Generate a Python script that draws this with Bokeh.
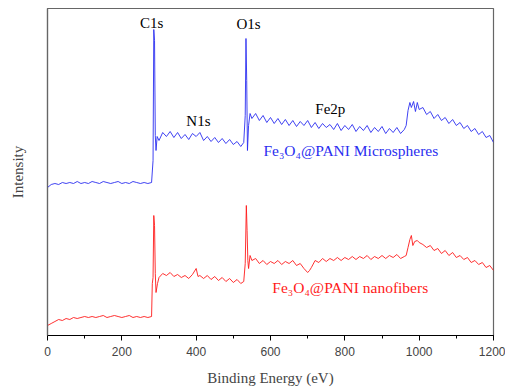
from bokeh.plotting import figure
from bokeh.models import Range1d, SingleIntervalTicker, FixedTicker
from bokeh.core.properties import value
from bokeh.embed import file_html
from bokeh.resources import INLINE

# Binding energy (eV) and intensity (a.u.) for Fe3O4@PANI Microspheres
micro_x = [0, 10, 20, 30, 40, 50, 60, 70, 80, 90, 100, 110, 120, 130, 140, 150, 160, 170, 180, 190,
           200, 210, 220, 230, 240, 250, 260, 270, 280, 284, 286, 288, 290, 292, 295,
           300, 310, 320, 330, 340, 350, 360, 370, 380, 390, 400, 410, 420, 430, 440, 450, 460, 470,
           480, 490, 500, 510, 520, 528, 532, 534, 536, 538, 541, 545,
           550, 560, 570, 580, 590, 600, 610, 620, 630, 640, 650, 660, 670, 680, 690, 700, 710, 720,
           730, 740, 750, 760, 770, 780, 790, 800, 810, 820, 830, 840, 850, 860, 870, 880, 890, 900,
           910, 920, 930, 940, 950, 960, 965, 970, 975, 979, 985, 990, 995,
           1000, 1010, 1020, 1030, 1040, 1050, 1060, 1070, 1080, 1090, 1100, 1110, 1120, 1130, 1140,
           1150, 1160, 1170, 1180, 1190, 1200]
micro_y = [148, 151, 152, 151, 153, 152, 153, 152, 154, 152, 153, 152, 154, 153, 152, 154, 153, 152, 153, 154,
           152, 153, 152, 154, 153, 152, 153, 152, 153, 175, 306, 295, 200, 185, 199,
           195, 203, 199, 204, 198, 203, 197, 201, 196, 202, 199, 203, 195, 199, 194, 198, 193, 197,
           192, 196, 191, 194, 189, 193, 220, 297, 255, 185, 210, 222,
           217, 222, 215, 220, 213, 218, 212, 217, 211, 216, 210, 215, 209, 214, 210, 215, 208, 213,
           207, 212, 208, 211, 206, 212, 205, 210, 206, 211, 204, 209, 205, 210, 203, 208, 204, 209,
           202, 207, 203, 208, 202, 206, 210, 225, 233, 228, 234, 224, 233,
           226, 228, 221, 224, 217, 221, 215, 218, 212, 216, 210, 213, 207, 210, 204,
           207, 201, 204, 198, 200, 193]

# Binding energy (eV) and intensity (a.u.) for Fe3O4@PANI nanofibers
fiber_x = [0, 10, 20, 30, 40, 50, 60, 70, 80, 90, 100, 110, 120, 130, 140, 150, 160, 170, 180, 190,
           200, 210, 220, 230, 240, 250, 260, 270, 280, 282, 284, 286, 288, 290, 292, 296,
           300, 310, 320, 330, 340, 350, 360, 370, 380, 390, 400, 405, 410, 420, 430, 440, 450, 460,
           470, 480, 490, 500, 510, 520, 528, 532, 535, 537, 539, 541, 545,
           550, 560, 570, 580, 590, 600, 610, 620, 630, 640, 650, 660, 670, 680, 690, 700, 705, 710,
           720, 730, 740, 750, 760, 770, 780, 790, 800, 810, 820, 830, 840, 850, 860, 870, 880, 890,
           900, 910, 920, 930, 940, 950, 960, 965, 970, 975, 979, 983, 988, 995,
           1000, 1010, 1020, 1030, 1040, 1050, 1060, 1070, 1080, 1090, 1100, 1110, 1120, 1130, 1140,
           1150, 1160, 1170, 1180, 1190, 1200]
fiber_y = [10, 12, 14, 16, 15, 17, 16, 18, 17, 18, 19, 18, 19, 18, 19, 20, 18, 19, 20, 19,
           18, 19, 20, 18, 19, 18, 19, 18, 19, 52, 58, 120, 110, 62, 43, 52,
           58, 62, 60, 63, 59, 61, 58, 60, 57, 61, 67, 59, 60, 57, 60, 56, 59, 55,
           58, 54, 57, 53, 56, 52, 54, 72, 130, 105, 75, 67, 80,
           75, 77, 72, 75, 71, 74, 72, 75, 71, 74, 72, 75, 70, 72, 67, 63, 65, 68,
           75, 73, 77, 74, 77, 75, 78, 75, 78, 76, 79, 76, 79, 77, 80, 76, 79, 77,
           80, 77, 80, 78, 81, 77, 79, 80, 88, 96, 100, 90, 94, 95,
           93, 91, 88, 90, 85, 87, 82, 85, 80, 83, 78, 80, 76, 78, 73,
           75, 71, 73, 68, 70, 65]

BLUE = "#2a2ef0"
RED = "#ff1a1a"
SERIF = "Liberation Serif"

p = figure(width=505, height=388, output_backend="svg", toolbar_location=None,
           x_range=Range1d(0, 1200), y_range=Range1d(0, 327),
           min_border_left=47, min_border_right=12, min_border_top=8, min_border_bottom=53)
p.background_fill_color = "white"
p.border_fill_color = "white"
p.outline_line_color = "#666666"
p.outline_line_width = 1.2
p.xgrid.visible = False
p.ygrid.visible = False

p.line(micro_x, micro_y, color=BLUE, line_width=0.9)
p.line(fiber_x, fiber_y, color=RED, line_width=0.9)

# peak labels
p.text(x=[280, 541], y=[313, 312], text=["C1s", "O1s"], text_font=value(SERIF),
       text_font_size="15px", text_align="center", text_baseline="middle", text_color="black")
p.text(x=[406, 761], y=[215, 227], text=["N1s", "Fe2p"], text_font=value(SERIF),
       text_font_size="15px", text_align="center", text_baseline="middle", text_color="black")
p.text(x=[581], y=[185], text=["Fe\u2083O\u2084@PANI Microspheres"], text_font=value(SERIF),
       text_font_size="15.5px", text_align="left", text_baseline="middle", text_color=BLUE)
p.text(x=[605], y=[48], text=["Fe\u2083O\u2084@PANI nanofibers"], text_font=value(SERIF),
       text_font_size="15.5px", text_align="left", text_baseline="middle", text_color=RED)

xa = p.xaxis[0]
xa.ticker = SingleIntervalTicker(interval=200, num_minor_ticks=2)
xa.axis_label = "Binding Energy (eV)"
xa.axis_label_text_font = SERIF
xa.axis_label_text_font_style = "normal"
xa.axis_label_text_font_size = "15px"
xa.axis_label_standoff = 11
xa.major_label_text_font = "Liberation Sans"
xa.major_label_text_font_size = "12px"
xa.major_label_standoff = 6
xa.major_tick_in = 0
xa.major_tick_out = 5
xa.minor_tick_in = 0
xa.minor_tick_out = 3
xa.axis_line_color = "black"
xa.major_tick_line_color = "black"
xa.minor_tick_line_color = "black"

ya = p.yaxis[0]
ya.ticker = FixedTicker(ticks=[])
ya.axis_label = "Intensity"
ya.axis_label_text_font = SERIF
ya.axis_label_text_font_style = "normal"
ya.axis_label_text_font_size = "15px"
ya.axis_label_standoff = 22
ya.axis_line_color = "#666666"
ya.axis_line_width = 1.2
ya.major_tick_line_color = None
ya.minor_tick_line_color = None

open("out.html", "w").write(file_html(p, INLINE))
